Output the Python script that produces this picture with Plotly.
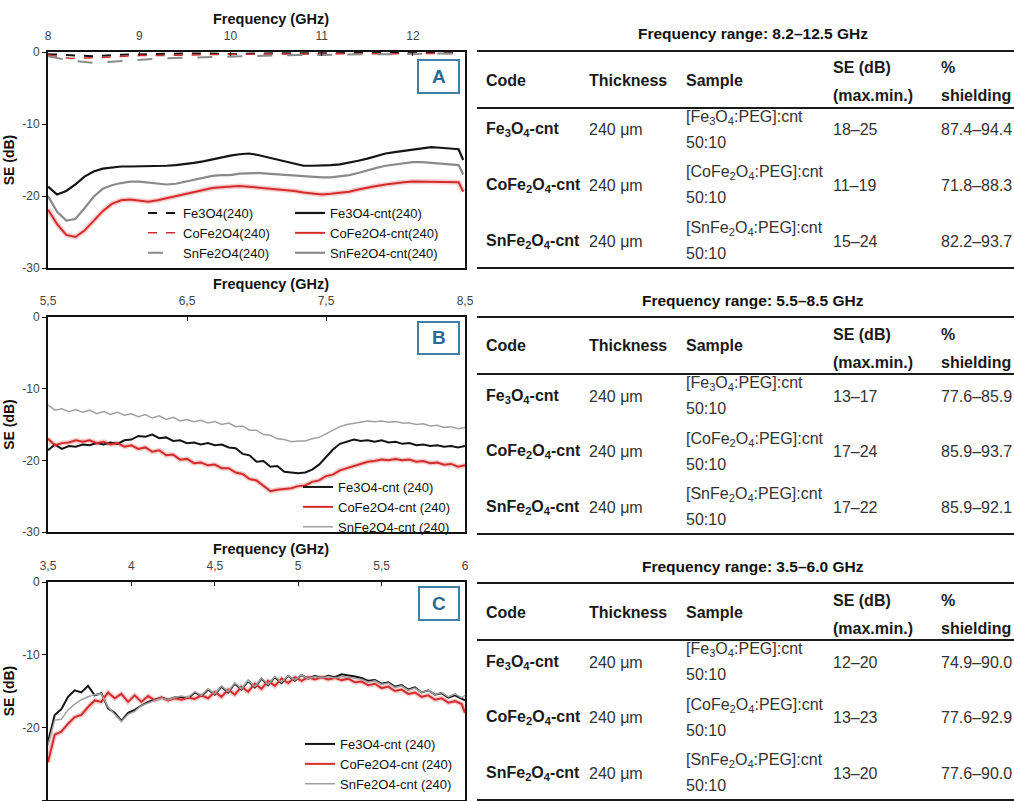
import plotly.graph_objects as go

W, H = 1014, 801
FONT = "Liberation Sans, Arial, sans-serif"

# ---------------- Panel A data (8.2-12.5 GHz) ----------------
freq_a = [8.0, 8.1, 8.2, 8.3, 8.4, 8.5, 8.6, 8.7, 8.8, 8.9, 9.0, 9.1, 9.2, 9.3, 9.4, 9.5,
          9.6, 9.7, 9.8, 9.9, 10.0, 10.1, 10.2, 10.3, 10.4, 10.5, 10.6, 10.7, 10.8, 10.9,
          11.0, 11.1, 11.2, 11.3, 11.4, 11.5, 11.6, 11.7, 11.8, 11.9, 12.0, 12.1, 12.2,
          12.3, 12.4, 12.5, 12.55]
fe_cnt_a = [-18.7, -19.8, -19.3, -18.4, -17.3, -16.6, -16.2, -16.0, -15.9, -15.9, -15.9, -15.9,
            -15.8, -15.8, -15.7, -15.6, -15.4, -15.2, -14.9, -14.6, -14.4, -14.2, -14.1, -14.3,
            -14.6, -14.9, -15.3, -15.6, -15.8, -15.8, -15.8, -15.7, -15.6, -15.4, -15.1, -14.8,
            -14.4, -14.1, -13.9, -13.7, -13.5, -13.3, -13.2, -13.3, -13.4, -13.5, -15.0]
co_cnt_a = [-21.9, -23.9, -25.4, -25.7, -24.8, -23.4, -22.1, -21.1, -20.6, -20.5, -20.6, -20.8,
            -20.6, -20.3, -20.0, -19.7, -19.4, -19.1, -18.9, -18.8, -18.7, -18.6, -18.7, -18.8,
            -18.9, -19.0, -19.1, -19.3, -19.5, -19.7, -19.8, -19.7, -19.6, -19.4, -19.1, -18.8,
            -18.6, -18.4, -18.2, -18.1, -18.0, -18.0, -18.0, -18.0, -18.1, -18.1, -19.4]
sn_cnt_a = [-20.0, -22.2, -23.4, -23.2, -21.7, -20.1, -19.0, -18.5, -18.2, -18.0, -18.0, -18.1,
            -18.3, -18.4, -18.3, -18.0, -17.7, -17.4, -17.2, -17.1, -17.1, -16.9, -16.8, -16.8,
            -16.9, -17.0, -17.1, -17.2, -17.3, -17.4, -17.4, -17.4, -17.3, -17.1, -16.8, -16.4,
            -16.1, -15.8, -15.6, -15.4, -15.3, -15.3, -15.4, -15.5, -15.6, -15.7, -17.0]

freq_a_bare = [8.0, 8.25, 8.5, 8.75, 9.0, 9.25, 9.5, 9.75, 10.0, 10.25, 10.5, 10.75, 11.0,
               11.25, 11.5, 11.75, 12.0, 12.25, 12.5]
fe_bare_a = [-0.3, -0.4, -0.6, -0.4, -0.3, -0.3, -0.2, -0.2, -0.3, -0.2, -0.2, -0.1, -0.2,
             -0.1, -0.1, -0.2, -0.1, -0.1, -0.1]
co_bare_a = [-0.4, -0.9, -0.8, -0.6, -0.5, -0.5, -0.4, -0.4, -0.3, -0.3, -0.3, -0.2, -0.3,
             -0.2, -0.2, -0.2, -0.2, -0.2, -0.2]
sn_bare_a = [-0.6, -1.2, -1.5, -1.3, -1.0, -0.9, -0.8, -0.7, -0.6, -0.6, -0.5, -0.4, -0.4,
             -0.3, -0.3, -0.3, -0.2, -0.2, -0.2]

# ---------------- Panel B data (5.5-8.5 GHz) ----------------
freq_b = [5.50, 5.55, 5.60, 5.65, 5.70, 5.75, 5.80, 5.85, 5.90, 5.95, 6.00, 6.05, 6.10, 6.15,
          6.20, 6.25, 6.30, 6.35, 6.40, 6.45, 6.50, 6.55, 6.60, 6.65, 6.70, 6.75, 6.80, 6.85,
          6.90, 6.95, 7.00, 7.05, 7.10, 7.15, 7.20, 7.25, 7.30, 7.35, 7.40, 7.45, 7.50, 7.55,
          7.60, 7.65, 7.70, 7.75, 7.80, 7.85, 7.90, 7.95, 8.00, 8.05, 8.10, 8.15, 8.20, 8.25,
          8.30, 8.35, 8.40, 8.45, 8.50]
fe_cnt_b = [-18.6, -17.8, -18.4, -18.0, -18.1, -17.8, -17.9, -17.6, -17.8, -17.5, -17.7, -17.2,
            -17.1, -16.6, -16.7, -16.4, -16.9, -16.8, -17.3, -17.2, -17.6, -17.5, -17.8, -17.6,
            -17.9, -17.8, -18.2, -18.3, -19.1, -19.3, -20.2, -20.1, -20.9, -20.8, -21.6, -21.7,
            -21.8, -21.7, -21.3, -20.6, -19.6, -18.5, -17.7, -17.4, -17.1, -17.3, -17.2, -17.4,
            -17.2, -17.5, -17.4, -17.7, -17.6, -17.9, -17.8, -18.0, -17.9, -18.1, -18.0, -18.2,
            -18.0]
co_cnt_b = [-17.0, -17.9, -17.6, -17.5, -17.2, -17.4, -17.2, -17.6, -17.4, -17.8, -17.6, -18.1,
            -17.9, -18.4, -18.2, -18.8, -18.6, -19.3, -19.2, -19.9, -19.8, -20.4, -20.3, -20.7,
            -20.6, -21.1, -21.1, -21.7, -21.9, -22.6, -22.8, -23.6, -24.3, -24.1, -24.0, -23.9,
            -23.6, -23.5, -23.0, -22.8, -22.2, -22.0, -21.4, -21.1, -20.7, -20.5, -20.2, -20.1,
            -19.9, -20.0, -19.8, -20.0, -19.9, -20.2, -20.1, -20.4, -20.3, -20.6, -20.5, -20.9,
            -20.7]
sn_cnt_b = [-12.3, -13.0, -12.8, -13.2, -12.9, -13.3, -13.0, -13.5, -13.2, -13.6, -13.3, -13.7,
            -13.5, -13.9, -13.6, -14.1, -13.8, -14.3, -14.0, -14.5, -14.3, -14.6, -14.4, -14.8,
            -14.6, -15.0, -14.8, -15.3, -15.2, -15.8, -15.8, -16.4, -16.5, -17.0, -17.1, -17.4,
            -17.3, -17.3, -17.0, -16.8, -16.3, -15.8, -15.3, -15.0, -14.8, -14.6, -14.5, -14.6,
            -14.5, -14.7, -14.6, -14.8, -14.8, -15.0, -14.9, -15.2, -15.1, -15.4, -15.3, -15.6,
            -15.4]

# ---------------- Panel C data (3.5-6.0 GHz) ----------------
freq_c = [3.50, 3.54, 3.58, 3.62, 3.66, 3.70, 3.74, 3.78, 3.82, 3.86, 3.90, 3.94, 3.98, 4.02,
          4.06, 4.10, 4.14, 4.18, 4.22, 4.26, 4.30, 4.34, 4.38, 4.42, 4.46, 4.50, 4.54, 4.58,
          4.62, 4.66, 4.70, 4.74, 4.78, 4.82, 4.86, 4.90, 4.94, 4.98, 5.02, 5.06, 5.10, 5.14,
          5.18, 5.22, 5.26, 5.30, 5.34, 5.38, 5.42, 5.46, 5.50, 5.54, 5.58, 5.62, 5.66, 5.70,
          5.74, 5.78, 5.82, 5.86, 5.90, 5.94, 5.98, 6.00]
fe_cnt_c = [-22.0, -18.3, -17.5, -15.8, -14.9, -15.2, -14.3, -15.6, -15.3, -17.4, -18.0, -19.1,
            -18.0, -17.6, -17.0, -16.5, -16.2, -15.9, -16.2, -15.9, -15.8, -16.0, -15.2, -15.7,
            -14.8, -15.5, -14.4, -15.2, -14.0, -14.8, -13.6, -14.5, -13.3, -14.2, -13.1, -13.9,
            -12.9, -13.6, -12.8, -13.3, -12.9, -13.2, -12.9, -13.1, -12.7, -12.8, -13.0, -13.2,
            -13.6, -13.5, -14.0, -13.8, -14.4, -14.2, -14.8, -14.5, -15.2, -14.9, -15.5, -15.3,
            -15.9, -15.6, -16.0, -16.3]
co_cnt_c = [-24.8, -21.0, -20.6, -19.5, -18.6, -18.3, -17.2, -16.3, -16.5, -15.2, -16.0, -15.4,
            -16.5, -15.6, -16.5, -15.7, -16.3, -15.9, -16.3, -16.0, -16.2, -15.9, -16.1, -15.6,
            -16.0, -15.1, -15.8, -14.8, -15.5, -14.4, -15.1, -14.0, -14.7, -13.6, -14.3, -13.3,
            -13.9, -13.1, -13.6, -13.1, -13.4, -13.1, -13.4, -13.2, -13.5, -13.3, -13.8, -13.7,
            -14.2, -14.0, -14.6, -14.4, -15.0, -14.8, -15.4, -15.2, -15.8, -15.6, -16.2, -16.0,
            -16.6, -16.4, -16.8, -18.0]
sn_cnt_c = [-22.5, -19.0, -18.9, -17.6, -16.8, -16.2, -15.8, -15.5, -15.4, -17.2, -18.2, -19.2,
            -18.2, -17.8, -17.0, -16.6, -16.3, -16.0, -16.2, -15.9, -15.7, -15.9, -15.1, -15.6,
            -14.7, -15.4, -14.3, -15.1, -13.9, -14.7, -13.5, -14.4, -13.2, -14.1, -13.0, -13.8,
            -12.9, -13.5, -12.8, -13.3, -13.0, -13.2, -13.0, -13.2, -13.0, -13.1, -13.2, -13.4,
            -13.8, -13.6, -14.1, -13.9, -14.5, -14.3, -14.9, -14.6, -15.2, -14.9, -15.5, -15.2,
            -15.8, -15.4, -15.9, -15.6]

# ---------------- Axis tick labels ----------------
xt_a_vals = [8, 9, 10, 11, 12]
xt_a_text = ["8", "9", "10", "11", "12"]
xt_b_vals = [5.5, 6.5, 7.5, 8.5]
xt_b_text = ["5,5", "6,5", "7,5", "8,5"]
xt_c_vals = [3.5, 4.0, 4.5, 5.0, 5.5, 6.0]
xt_c_text = ["3,5", "4", "4,5", "5", "5,5", "6"]
yt_vals = [0, -10, -20, -30]
yt_text = ["0", "-10", "-20", "-30"]
panel_letters = ["A", "B", "C"]
x_title = "Frequency (GHz)"
y_title = "SE (dB)"

# ---------------- Table data ----------------
table_titles = ["Frequency range: 8.2–12.5 GHz", "Frequency range: 5.5–8.5 GHz",
                "Frequency range: 3.5–6.0 GHz"]
col_headers = ["Code", "Thickness", "Sample"]
se_header = ["SE (dB)", "(max.min.)"]
sh_header = ["%", "shielding"]
codes = ["Fe<sub>3</sub>O<sub>4</sub>-cnt", "CoFe<sub>2</sub>O<sub>4</sub>-cnt",
         "SnFe<sub>2</sub>O<sub>4</sub>-cnt"]
thickness = ["240 μm", "240 μm", "240 μm"]
samples = ["[Fe<sub>3</sub>O<sub>4</sub>:PEG]:cnt", "[CoFe<sub>2</sub>O<sub>4</sub>:PEG]:cnt",
           "[SnFe<sub>2</sub>O<sub>4</sub>:PEG]:cnt"]
ratio = ["50:10", "50:10", "50:10"]
se_ranges = [["18–25", "11–19", "15–24"], ["13–17", "17–24", "17–22"], ["12–20", "13–23", "13–20"]]
shielding = [["87.4–94.4", "71.8–88.3", "82.2–93.7"], ["77.6–85.9", "85.9–93.7", "85.9–92.1"],
             ["74.9–90.0", "77.6–92.9", "77.6–90.0"]]

BLACK = "#141414"
RED = "#d42b2b"
RED_GLOW = "rgba(225,90,90,0.30)"
GRAY = "#8a8a8a"
BLUE = "#3f7fa8"


def px(x):
    return x / W


def py(y):
    return 1 - y / H


fig = go.Figure()


def glow(xs, ys, xa, ya):
    fig.add_trace(go.Scatter(x=xs, y=ys, mode="lines", showlegend=False, hoverinfo="skip",
                             line=dict(color=RED_GLOW, width=5), xaxis=xa, yaxis=ya))


# Panel A traces
glow(freq_a, co_cnt_a, "x", "y")
fig.add_trace(go.Scatter(x=freq_a_bare, y=fe_bare_a, mode="lines", name="Fe3O4(240)",
                         line=dict(color=BLACK, width=2, dash="dash"), xaxis="x", yaxis="y",
                         legend="legend"))
fig.add_trace(go.Scatter(x=freq_a_bare, y=co_bare_a, mode="lines", name="CoFe2O4(240)",
                         line=dict(color=RED, width=1.5, dash="dash"), xaxis="x", yaxis="y",
                         legend="legend"))
fig.add_trace(go.Scatter(x=freq_a_bare, y=sn_bare_a, mode="lines", name="SnFe2O4(240)",
                         line=dict(color=GRAY, width=2, dash="longdash"), xaxis="x", yaxis="y",
                         legend="legend"))
fig.add_trace(go.Scatter(x=freq_a, y=fe_cnt_a, mode="lines", name="Fe3O4-cnt(240)",
                         line=dict(color=BLACK, width=2.2), xaxis="x", yaxis="y",
                         legend="legend4"))
fig.add_trace(go.Scatter(x=freq_a, y=co_cnt_a, mode="lines", name="CoFe2O4-cnt(240)",
                         line=dict(color=RED, width=2), xaxis="x", yaxis="y",
                         legend="legend4"))
fig.add_trace(go.Scatter(x=freq_a, y=sn_cnt_a, mode="lines", name="SnFe2O4-cnt(240)",
                         line=dict(color=GRAY, width=2.2), xaxis="x", yaxis="y",
                         legend="legend4"))

# Panel B traces
glow(freq_b, co_cnt_b, "x2", "y2")
fig.add_trace(go.Scatter(x=freq_b, y=fe_cnt_b, mode="lines", name="Fe3O4-cnt (240)",
                         line=dict(color=BLACK, width=2), xaxis="x2", yaxis="y2",
                         legend="legend2"))
fig.add_trace(go.Scatter(x=freq_b, y=co_cnt_b, mode="lines", name="CoFe2O4-cnt (240)",
                         line=dict(color=RED, width=2), xaxis="x2", yaxis="y2",
                         legend="legend2"))
fig.add_trace(go.Scatter(x=freq_b, y=sn_cnt_b, mode="lines", name="SnFe2O4-cnt (240)",
                         line=dict(color="#a0a0a0", width=1.5), xaxis="x2", yaxis="y2",
                         legend="legend2"))

# Panel C traces
glow(freq_c, co_cnt_c, "x3", "y3")
fig.add_trace(go.Scatter(x=freq_c, y=fe_cnt_c, mode="lines", name="Fe3O4-cnt (240)",
                         line=dict(color=BLACK, width=2), xaxis="x3", yaxis="y3",
                         legend="legend3"))
fig.add_trace(go.Scatter(x=freq_c, y=co_cnt_c, mode="lines", name="CoFe2O4-cnt (240)",
                         line=dict(color=RED, width=2), xaxis="x3", yaxis="y3",
                         legend="legend3"))
fig.add_trace(go.Scatter(x=freq_c, y=sn_cnt_c, mode="lines", name="SnFe2O4-cnt (240)",
                         line=dict(color="#a0a0a0", width=1.5), xaxis="x3", yaxis="y3",
                         legend="legend3"))

panel_px = [(52, 268), (317, 532), (582, 800)]
x_dom = [px(48), px(465)]


def xaxis(vals, text, rng, anchor):
    return dict(domain=x_dom, range=rng, side="top", anchor=anchor,
                tickmode="array", tickvals=vals, ticktext=text,
                ticks="inside", ticklen=4, tickcolor="#111", tickwidth=1,
                ticklabelstandoff=5, automargin=False,
                tickfont=dict(family=FONT, size=12, color="#444"),
                showline=True, linecolor="#111", linewidth=2, mirror=True,
                showgrid=False, zeroline=False)


def yaxis(anchor, dom):
    return dict(domain=dom, range=[-30, 0], anchor=anchor, automargin=False,
                tickmode="array", tickvals=yt_vals, ticktext=yt_text,
                ticks="outside", ticklen=4, tickcolor="#111",
                tickfont=dict(family=FONT, size=12, color="#444"),
                showline=True, linecolor="#111", linewidth=2, mirror=True,
                showgrid=False, zeroline=False,
                title=dict(text=f"<b>{y_title}</b>", standoff=4,
                           font=dict(family=FONT, size=14, color="#111")))


doms = [[py(b), py(t)] for (t, b) in panel_px]

legend_font = dict(family=FONT, size=13, color="#111")


def legend_at(xp, ybot):
    return dict(x=px(xp), y=py(ybot), xanchor="left", yanchor="bottom",
                bgcolor="rgba(0,0,0,0)", borderwidth=0, font=legend_font,
                tracegroupgap=0, itemwidth=30)


shapes = []
annotations = []


def ann(x, y, text, font, anchor="left"):
    annotations.append(dict(xref="paper", yref="paper", x=px(x), y=py(y), text=text,
                            showarrow=False, xanchor=anchor, yanchor="middle", font=font,
                            borderpad=0))


# x-axis titles (top)
for ytit in (19, 284, 549):
    ann(271, ytit, f"<b>{x_title}</b>", dict(family=FONT, size=14.5, color="#111"), anchor="center")

# panel letter boxes
boxes = [(418, 60, 459, 93), (418, 322, 459, 354), (419, 587, 459, 620)]
for (x0, y0, x1, y1), letter in zip(boxes, panel_letters):
    shapes.append(dict(type="rect", xref="paper", yref="paper", x0=px(x0), x1=px(x1),
                       y0=py(y1), y1=py(y0), line=dict(color=BLUE, width=2),
                       fillcolor="white"))
    ann((x0 + x1) / 2, (y0 + y1) / 2, f"<b>{letter}</b>",
        dict(family=FONT, size=19, color="#2d6a93"), anchor="center")

# tables
rule_tops = [51, 317, 583]
TX0, TX1 = 477, 1014
col_x = [485, 588, 685, 832, 940]
body_font = dict(family=FONT, size=16, color="#1a1a1a")
samp_font = dict(family=FONT, size=16, color="#333")

for t, top in enumerate(rule_tops):
    ann(753, top - 17, f"<b>{table_titles[t]}</b>",
        dict(family=FONT, size=15.5, color="#111"), anchor="center")
    for yy in (top, top + 57, min(top + 217, 800)):
        shapes.append(dict(type="line", xref="paper", yref="paper", x0=px(TX0), x1=px(TX1),
                           y0=py(yy), y1=py(yy), line=dict(color="#1a1a1a", width=2)))
    for c in range(3):
        ann(col_x[c], top + 29, f"<b>{col_headers[c]}</b>", body_font)
    ann(col_x[3], top + 17, f"<b>{se_header[0]}</b>", body_font)
    ann(col_x[3], top + 45, f"<b>{se_header[1]}</b>", body_font)
    ann(col_x[4], top + 17, f"<b>{sh_header[0]}</b>", body_font)
    ann(col_x[4], top + 45, f"<b>{sh_header[1]}</b>", body_font)
    for r in range(3):
        yc = top + 79 + r * 55.5
        ann(col_x[0], yc, f"<b>{codes[r]}</b>", body_font)
        ann(col_x[1], yc, thickness[r], samp_font)
        ann(col_x[2], yc - 12.5, samples[r], samp_font)
        ann(col_x[2], yc + 12.5, ratio[r], samp_font)
        ann(col_x[3], yc, se_ranges[t][r], samp_font)
        ann(col_x[4], yc, shielding[t][r], samp_font)

fig.update_layout(
    width=W, height=H, autosize=False,
    margin=dict(l=0, r=0, t=0, b=0, autoexpand=False),
    paper_bgcolor="white", plot_bgcolor="white",
    font=dict(family=FONT, color="#111"),
    xaxis=xaxis(xt_a_vals, xt_a_text, [8, 12.57], "y"),
    yaxis=yaxis("x", doms[0]),
    xaxis2=xaxis(xt_b_vals, xt_b_text, [5.5, 8.5], "y2"),
    yaxis2=yaxis("x2", doms[1]),
    xaxis3=xaxis(xt_c_vals, xt_c_text, [3.5, 6.0], "y3"),
    yaxis3=yaxis("x3", doms[2]),
    legend=legend_at(143, 268),
    legend4=legend_at(290, 268),
    legend2=legend_at(298, 542),
    legend3=legend_at(300, 799),
    shapes=shapes,
    annotations=annotations,
)

fig.write_html(
    "out.html",
    config={"displayModeBar": False},
    post_script=(
        "var s='margin:0;padding:0;width:1014px;height:801px;overflow:hidden;';"
        "document.documentElement.style.cssText=s;document.body.style.cssText=s;"
    ),
)
